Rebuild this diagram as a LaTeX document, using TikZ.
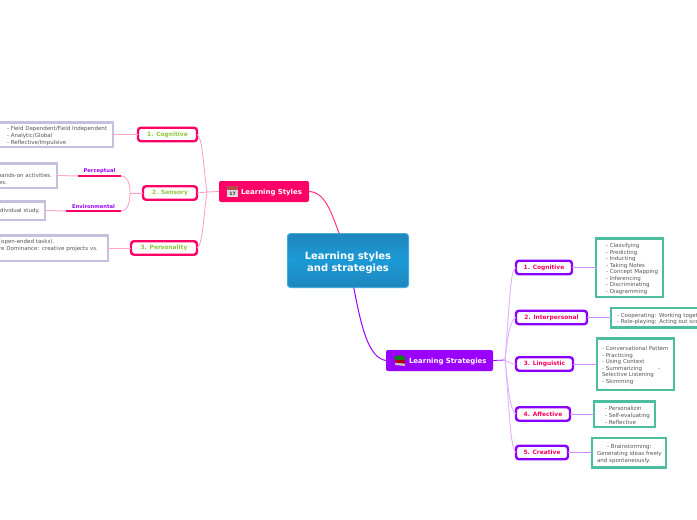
\documentclass[tikz,border=0pt]{standalone}
\usepackage{fontspec}
\setmainfont{DejaVu Sans}
\usetikzlibrary{shapes,arrows}
\usetikzlibrary{positioning}
\definecolor{stylepink}{HTML}{FF0066}
\definecolor{stratpurple}{HTML}{9900FF}
\definecolor{lilacline}{HTML}{C4C0DE}
\definecolor{tealline}{HTML}{4DBD9F}
\definecolor{bodygray}{HTML}{555555}
\definecolor{cogreen}{HTML}{8CC63F}
\definecolor{rootblue}{HTML}{1B9AD6}
\definecolor{rootdark}{HTML}{1F86BD}
\definecolor{rootedge}{HTML}{45ABDD}
\tikzstyle{branch} = [rounded corners=2pt, text=white, font=\fontsize{6.95}{7.5}\bfseries\selectfont,
    outer sep=0pt, inner sep=0pt, minimum height=21pt, align=left]
\tikzstyle{kidpink} = [draw=stylepink, fill=white, line width=2.4pt, rounded corners=3pt, outer sep=0pt, inner sep=0pt,
    minimum height=13.5pt, text=cogreen, font=\fontsize{5.9}{7}\bfseries\selectfont]
\tikzstyle{kidpurple} = [kidpink, draw=stratpurple!90!blue, text=stylepink!90!red]
\tikzstyle{detail} = [draw=tealline, fill=white, line width=2.5pt, outer sep=0pt, inner xsep=0pt, inner ysep=0pt,
    align=left, text=bodygray, font=\fontsize{5.5}{6.57}\selectfont]
\tikzstyle{detailleft} = [detail, draw=lilacline]
\tikzstyle{lead} = [execute at begin node={\leftskip=#1\relax}, execute at end node={\endgraf\kern-3pt}]
\tikzstyle{tag} = [text=stratpurple, font=\fontsize{5.2}{6}\bfseries\selectfont, inner xsep=0pt, inner ysep=2.5pt, outer sep=0pt]
\tikzstyle{pinkthin} = [draw=stylepink!40, line width=.8pt]
\tikzstyle{pinklink} = [draw=stylepink!35, line width=1pt]
\tikzstyle{purplethin} = [draw=stratpurple!30, line width=.9pt]
\tikzstyle{purplelink} = [draw=stratpurple!45, line width=1pt]
\begin{document}
\begin{tikzpicture}[x=1pt, y=-1pt, node distance = 80pt]
  \useasboundingbox (0,0) rectangle (697,520);
  % centre and the two branches
  \node [draw=rootedge, line width=1pt, rounded corners=3pt, top color=rootdark, bottom color=rootdark, middle color=rootblue,
    minimum width=121pt, minimum height=54pt, inner sep=0pt, outer sep=0pt, align=center, text=white, text width=118pt,
    execute at end node={\endgraf\kern-5pt},
    font=\fontsize{10}{12}\bfseries\selectfont] (root) at (348,260.5) {Learning styles\\ and strategies};
  \node [branch, fill=stylepink, lead=22pt, text width=90pt] (styles) at (264,191.5) {Learning Styles};
  \node [branch, fill=stratpurple, lead=23pt, text width=107pt] (strategies) at (439.5,360.5) {Learning Strategies};
  \draw [stylepink!80, line width=1pt] (styles.east) .. controls (325,192) and (331,212) .. (root.108);
  \draw [stratpurple, line width=1pt] (root.-78) .. controls (361,325) and (368,358) .. (strategies.west);

  % calendar icon
  \fill [gray!30] (227,186) rectangle (238,197);
  \fill [red!60!black!70] (227,186) rectangle (238,190);
  \node [inner sep=0pt, text=black!80, font=\fontsize{4.5}{5}\bfseries\selectfont] (calday) at (232.5,193.5) {17};
  % book icon
  \fill [gray!50] (395,362.5) -- (405,363.5) -- (405,366) -- (395,365) -- cycle;
  \fill [red!70!black] (395,359.5) -- (405,360.5) -- (405,363.5) -- (395,362.5) -- cycle;
  \fill [green!55!black] (394,357) -- (401,355) -- (405,357.5) -- (405,360) -- (395,359.5) -- cycle;

  % left side
  \node [kidpink, minimum width=59pt] (scog) at (167.5,134.5) {1. Cognitive};
  \node [kidpink, minimum width=54pt] (ssens) at (170,193) {2. Sensory};
  \node [kidpink, minimum width=66pt] (spers) at (164,248) {3. Personality};
  \coordinate (sjoin) at (207,192);
  \coordinate (sensjoin) at (130,193);
  \draw [pinkthin] (styles.west) -- (sjoin);
  \draw [pinkthin] (scog.east) .. controls (203,137) and (204,175) .. (sjoin);
  \draw [pinkthin] (ssens.east) -- (sjoin);
  \draw [pinkthin] (spers.east) .. controls (203,246) and (204,210) .. (sjoin);

  \node [detailleft, lead=14pt, text width=120pt, minimum height=24.5pt, left of=scog, node distance=114.5pt] (scogbox) {- Field Dependent/Field Independent\\- Analytic/Global\\- Reflective/Impulsive};
  \node [tag, anchor=south, minimum width=43pt] (perc) at (99.5,176) {Perceptual};
  \node [tag, anchor=south, minimum width=55pt] (envi) at (93.5,211) {Environmental};
  \draw [stylepink, line width=2pt] (perc.south west) -- (perc.south east);
  \draw [stylepink, line width=2pt] (envi.south west) -- (envi.south east);
  \draw [pinkthin] (ssens.west) -- (sensjoin);
  \draw [pinkthin] (perc.south east) .. controls (127,176) and (130,182) .. (sensjoin);
  \draw [pinkthin] (envi.south east) .. controls (127,211) and (130,204) .. (sensjoin);
  \node [detailleft, lead=6pt, text width=65pt, minimum height=24.5pt] (percbox) at (24.5,175.5) {hands-on activities.\\\hspace*{1pt}es.\endgraf\kern-5pt};
  \node [detailleft, lead=3pt, text width=53pt, minimum height=18.5pt] (envibox) at (18.5,210.5) {individual study.\endgraf\kern-4pt};
  \node [detailleft, lead=5pt, text width=114pt, minimum height=25.5pt, left of=spers, node distance=113pt] (persbox) {(open-ended tasks).\\re Dominance: creative projects vs.\endgraf\kern8pt};
  \draw [pinklink] (scogbox.east) -- (scog.west);
  \draw [pinklink] (percbox.east) -- (perc.south west);
  \draw [pinklink] (envibox.east) -- (envi.south west);
  \draw [pinklink] (persbox.east) -- (spers.west);

  % right side
  \node [kidpurple, minimum width=56pt] (tcog) at (544,267.5) {1. Cognitive};
  \node [kidpurple, minimum width=71pt] (tint) at (551.5,317.5) {2. Interpersonal};
  \node [kidpurple, minimum width=57pt] (tlin) at (544.5,364) {3. Linguistic};
  \node [kidpurple, minimum width=54pt] (taff) at (543,414) {4. Affective};
  \node [kidpurple, minimum width=52pt] (tcre) at (542,452.5) {5. Creative};
  \coordinate (tjoin) at (505,360);
  \draw [stratpurple, line width=.8pt] (strategies.east) -- (tjoin);
  \draw [purplethin] (tcog.west) .. controls (510,270) and (510,300) .. (tjoin);
  \draw [purplethin] (tint.west) .. controls (510,320) and (508,335) .. (tjoin);
  \draw [purplethin] (tlin.west) .. controls (511,364) and (508,362) .. (tjoin);
  \draw [purplethin] (taff.west) .. controls (510,412) and (508,385) .. (tjoin);
  \draw [purplethin] (tcre.west) .. controls (510,450) and (509,400) .. (tjoin);

  \node [detail, lead=10pt, text width=67pt, minimum height=58.5pt, right of=tcog, node distance=85.5pt] (tcogbox) {- Classifying\\- Predicting\\- Inducting\\- Taking Notes\\- Concept Mapping\\- Inferencing\\- Discriminating\\- Diagramming};
  \node [detail, lead=6pt, text width=160pt, minimum height=19.5pt, right of=tint, node distance=139.5pt] (tintbox) {- Cooperating: Working together\\- Role-playing: Acting out scenes};
  \node [detail, lead=5pt, text width=77pt, minimum height=51.5pt, right of=tlin, node distance=91pt] (tlinbox) {- Conversational Pattern\\- Practicing\\- Using Context\\- Summarizing\hspace{16pt}-\\Selective Listening\\- Skimming};
  \node [detail, lead=11pt, text width=61pt, minimum height=25.5pt, right of=taff, node distance=81.5pt] (taffbox) {- Personalizin\\- Self-evaluating\\- Reflective};
  \node [detail, lead=5pt, text width=74pt, minimum height=29.5pt, right of=tcre, node distance=87pt] (tcrebox) {\hspace*{10pt}- Brainstorming:\\Generating ideas freely\\and spontaneously.};
  \draw [purplelink] (tcog.east) -- (tcogbox.west);
  \draw [purplelink] (tint.east) -- (tintbox.west);
  \draw [purplelink] (tlin.east) -- (tlinbox.west);
  \draw [purplelink] (taff.east) -- (taffbox.west);
  \draw [purplelink] (tcre.east) -- (tcrebox.west);
\end{tikzpicture}
\end{document}
